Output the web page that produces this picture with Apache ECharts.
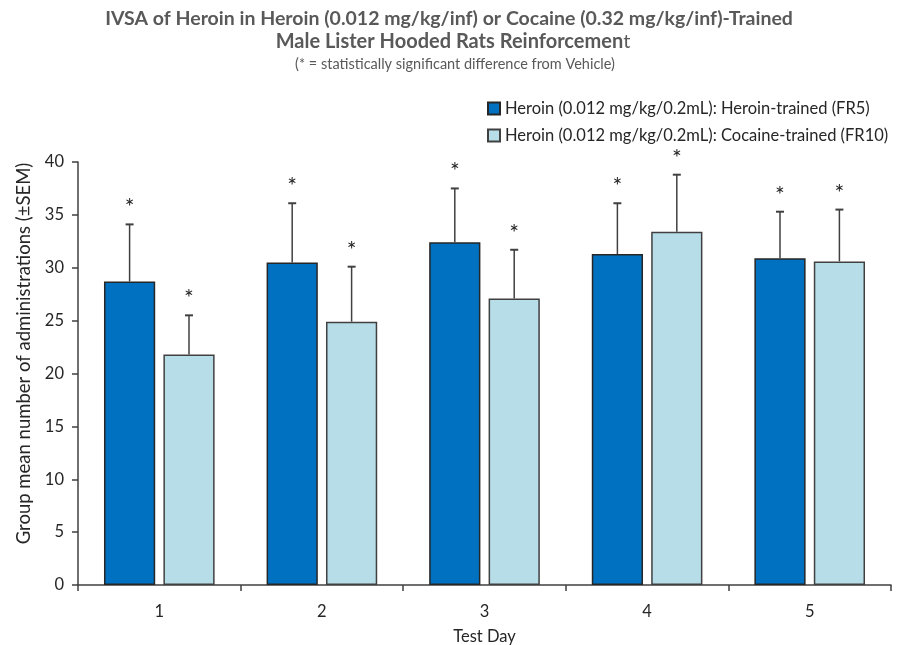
<!DOCTYPE html>
<html>
<head>
<meta charset="utf-8">
<script src="https://cdn.jsdelivr.net/npm/echarts@6/dist/echarts.min.js"></script>
<style>
    html, body { margin: 0; padding: 0; background: #fff; }
    #chart { width: 918px; height: 645px; }
</style>
</head>
<body>
<div id="chart"></div>
<script>
    // values
    var days = ['1', '2', '3', '4', '5'];
    var heroinTrained = [28.7, 30.5, 32.4, 31.3, 30.9];
    var heroinTrainedSem = [5.4, 5.6, 5.1, 4.8, 4.4];
    var cocaineTrained = [21.8, 24.9, 27.1, 33.4, 30.6];
    var cocaineTrainedSem = [3.7, 5.2, 4.6, 5.4, 4.9];
    var seriesNames = [
        'Heroin (0.012 mg/kg/0.2mL): Heroin-trained (FR5)',
        'Heroin (0.012 mg/kg/0.2mL): Cocaine-trained (FR10)'
    ];

    var font = 'Lato, "Open Sans", sans-serif';
    var barWidthRatio = 0.315;
    var barGapRatio = 0.16;

    function errorSeries(name, values, sems, side) {
        return {
            type: 'custom',
            name: name + ' SEM',
            z: 5,
            tooltip: { show: false },
            data: values.map(function (v, i) { return [i, v, sems[i]]; }),
            renderItem: function (params, api) {
                var i = api.value(0);
                var base = api.coord([i, api.value(1)]);
                var top = api.coord([i, api.value(1) + api.value(2)]);
                var w = api.size([1, 0])[0] * barWidthRatio;
                var x = base[0] + side * (w / 2 + w * barGapRatio / 2);
                return {
                    type: 'group',
                    children: [
                        { type: 'line', shape: { x1: x, y1: base[1], x2: x, y2: top[1] },
                          style: { stroke: '#404040', lineWidth: 1.5 } },
                        { type: 'line', shape: { x1: x - 4, y1: top[1], x2: x + 4, y2: top[1] },
                          style: { stroke: '#404040', lineWidth: 2 } },
                        { type: 'text', x: x, y: top[1] - 5,
                          style: { text: '*', fill: '#262626', font: '23px ' + font,
                                   align: 'center', verticalAlign: 'bottom' } }
                    ]
                };
            }
        };
    }

    var chart = echarts.init(document.getElementById('chart'));
    chart.setOption({
        animation: false,
        // title lines, placed by hand so each is centred where the original sits
        graphic: [{
            type: 'text', x: 449, y: 19,
            style: {
                text: 'IVSA of Heroin in Heroin (0.012 mg/kg/inf) or Cocaine (0.32 mg/kg/inf)-Trained',
                font: 'bold 19.5px ' + font, fill: '#595959', align: 'center', verticalAlign: 'middle'
            }
        }, {
            type: 'text', x: 453, y: 42,
            style: {
                text: '{b|Male Lister Hooded Rats Reinforcemen}{n|t}',
                align: 'center', verticalAlign: 'middle',
                rich: {
                    b: { fontFamily: font, fontWeight: 'bold', fontSize: 20, fill: '#595959', color: '#595959' },
                    n: { fontFamily: font, fontWeight: 'normal', fontSize: 20, fill: '#595959', color: '#595959' }
                }
            }
        }, {
            type: 'text', x: 455, y: 64,
            style: {
                text: '(* = statistically significant difference from Vehicle)',
                font: '14.5px ' + font, fill: '#595959', align: 'center', verticalAlign: 'middle'
            }
        }],
        legend: {
            orient: 'vertical',
            left: 482,
            top: 95,
            itemWidth: 12,
            itemHeight: 12,
            itemGap: 10,
            icon: 'rect',
            data: seriesNames,
            textStyle: { fontFamily: font, fontSize: 16.5, color: '#262626' }
        },
        grid: { left: 78, right: 27, top: 162, bottom: 60, outerBoundsMode: 'none' },
        xAxis: {
            type: 'category',
            data: days,
            name: 'Test Day',
            nameLocation: 'middle',
            nameGap: 43,
            nameTextStyle: { fontFamily: font, fontSize: 16.5, color: '#262626' },
            axisLine: { lineStyle: { color: '#404040', width: 1.5 } },
            axisTick: { show: true, inside: false, length: 6, lineStyle: { color: '#404040', width: 1.5 } },
            axisLabel: { fontFamily: font, fontSize: 16.5, color: '#262626', margin: 18 }
        },
        yAxis: {
            type: 'value',
            min: 0,
            max: 40,
            interval: 5,
            name: 'Group mean number of administrations (±SEM)',
            nameLocation: 'middle',
            nameGap: 40,
            nameTextStyle: { fontFamily: font, fontSize: 18.5, color: '#262626', padding: [0, 0, 0, 40] },
            axisLine: { show: true, lineStyle: { color: '#404040', width: 1.5 } },
            axisTick: { show: true, length: 6, lineStyle: { color: '#404040', width: 1.5 } },
            axisLabel: { fontFamily: font, fontSize: 16.5, color: '#262626', margin: 14 },
            splitLine: { show: false }
        },
        series: [{
            type: 'bar',
            name: seriesNames[0],
            data: heroinTrained,
            barWidth: (barWidthRatio * 100) + '%',
            barGap: (barGapRatio * 100) + '%',
            itemStyle: { color: '#0070C0', borderColor: '#262626', borderWidth: 1.5 }
        }, {
            type: 'bar',
            name: seriesNames[1],
            data: cocaineTrained,
            barWidth: (barWidthRatio * 100) + '%',
            barGap: (barGapRatio * 100) + '%',
            itemStyle: { color: '#B7DEE8', borderColor: '#404040', borderWidth: 1.5 }
        },
            errorSeries(seriesNames[0], heroinTrained, heroinTrainedSem, -1),
            errorSeries(seriesNames[1], cocaineTrained, cocaineTrainedSem, 1)
        ]
    });
</script>
</body>
</html>
